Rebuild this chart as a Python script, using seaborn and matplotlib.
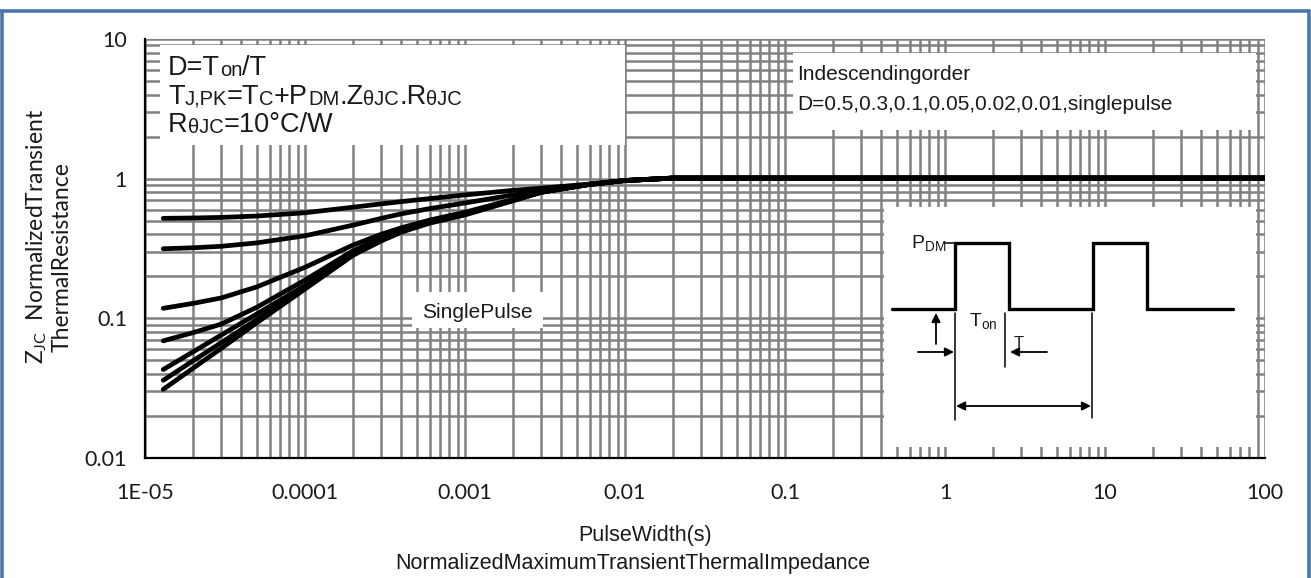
import numpy as np
import pandas as pd
import matplotlib
matplotlib.use("Agg")
import matplotlib.pyplot as plt
import seaborn as sns
from matplotlib.patches import Rectangle
from matplotlib.lines import Line2D
from matplotlib.ticker import FixedLocator, FixedFormatter, LogLocator, NullFormatter

# ---------------- data ----------------
pulse_width = [1.3e-5, 2e-5, 3e-5, 5e-5, 1e-4, 2e-4, 3e-4, 4e-4, 6e-4,
               1e-3, 2e-3, 3e-3, 6e-3, 1e-2, 2e-2, 100]
duty_labels = ["0.5", "0.3", "0.1", "0.05", "0.02", "0.01", "single pulse"]
z_d050 = [0.52, 0.523, 0.528, 0.54, 0.57, 0.625, 0.66, 0.685, 0.72, 0.765, 0.825, 0.855, 0.915, 0.97, 1.01, 1.01]
z_d030 = [0.315, 0.32, 0.328, 0.347, 0.39, 0.465, 0.52, 0.56, 0.61, 0.67, 0.765, 0.825, 0.912, 0.97, 1.01, 1.01]
z_d010 = [0.118, 0.128, 0.14, 0.168, 0.232, 0.335, 0.40, 0.445, 0.505, 0.575, 0.71, 0.805, 0.91, 0.97, 1.01, 1.01]
z_d005 = [0.069, 0.079, 0.091, 0.12, 0.188, 0.305, 0.378, 0.43, 0.495, 0.565, 0.705, 0.80, 0.91, 0.97, 1.01, 1.01]
z_d002 = [0.043, 0.0576, 0.076, 0.1075, 0.172, 0.293, 0.368, 0.422, 0.488, 0.56, 0.70, 0.80, 0.91, 0.97, 1.01, 1.01]
z_d001 = [0.036, 0.0497, 0.067, 0.098, 0.167, 0.288, 0.363, 0.418, 0.484, 0.555, 0.70, 0.80, 0.91, 0.97, 1.01, 1.01]
z_single = [0.031, 0.044, 0.061, 0.093, 0.162, 0.283, 0.358, 0.414, 0.48, 0.55, 0.695, 0.80, 0.91, 0.97, 1.01, 1.01]

x_ticks = [1e-5, 1e-4, 1e-3, 1e-2, 1e-1, 1, 10, 100]
x_tick_labels = ["1E-05", "0.0001", "0.001", "0.01", "0.1", "1", "10", "100"]
y_ticks = [0.01, 0.1, 1, 10]
y_tick_labels = ["0.01", "0.1", "1", "10"]

# pulse schematic (inset drawing units)
pulse_x = [892, 955, 955, 1009, 1009, 1093, 1093, 1147, 1147, 1233]
pulse_y = [309, 309, 243, 243, 309, 309, 243, 243, 309, 309]

# ---------------- figure ----------------
W, H = 1311, 578
sns.set_theme(style="white")
plt.rcParams["font.family"] = ["Liberation Sans", "DejaVu Sans"]
plt.rcParams["mathtext.fontset"] = "custom"
plt.rcParams["mathtext.rm"] = "Liberation Sans"
plt.rcParams["mathtext.it"] = "Liberation Sans"

fig = plt.figure(figsize=(W / 100, H / 100), dpi=100)
fig.patch.set_facecolor("white")


def fx(px):
    return px / W


def fy(py):
    return 1 - py / H


ax = fig.add_axes([fx(145), fy(458), (1265 - 145) / W, (458 - 39) / H])
ax.set_xscale("log")
ax.set_yscale("log")

series = [z_d050, z_d030, z_d010, z_d005, z_d002, z_d001, z_single]
df = pd.concat(
    [pd.DataFrame({"pulse": pulse_width, "z": s, "D": lab}) for s, lab in zip(series, duty_labels)],
    ignore_index=True,
)
sns.lineplot(data=df, x="pulse", y="z", hue="D", hue_order=duty_labels,
             palette={d: "black" for d in duty_labels}, estimator=None,
             linewidth=3.4, legend=False, ax=ax, zorder=3,
             solid_capstyle="round", solid_joinstyle="round")

ax.set_xlim(1e-5, 100)
ax.set_ylim(0.01, 10)
ax.xaxis.set_major_locator(FixedLocator(x_ticks))
ax.xaxis.set_major_formatter(FixedFormatter(x_tick_labels))
ax.yaxis.set_major_locator(FixedLocator(y_ticks))
ax.yaxis.set_major_formatter(FixedFormatter(y_tick_labels))
ax.xaxis.set_minor_locator(LogLocator(base=10, subs=np.arange(2, 10), numticks=20))
ax.yaxis.set_minor_locator(LogLocator(base=10, subs=np.arange(2, 10), numticks=20))
ax.xaxis.set_minor_formatter(NullFormatter())
ax.yaxis.set_minor_formatter(NullFormatter())
ax.set_axisbelow(True)
ax.grid(True, which="both", color="#808080", linewidth=1.8)
ax.tick_params(which="both", length=0)
ax.tick_params(axis="x", pad=18, labelsize=15.5, labelcolor="#1a1a1a")
ax.tick_params(axis="y", pad=13, labelsize=15.5, labelcolor="#1a1a1a")
for lab in ax.get_xticklabels() + ax.get_yticklabels():
    lab.set_family(["Lato", "DejaVu Sans"])
for side in ["top", "right"]:
    ax.spines[side].set_visible(False)
for side in ["left", "bottom"]:
    ax.spines[side].set_color("black")
    ax.spines[side].set_linewidth(1.6)
ax.set_xlabel("")
ax.set_ylabel("")

# white boxes covering grid
for (x0, y0, x1, y1) in [(160, 45, 625, 145), (793, 53, 1256, 130), (412, 292, 543, 328)]:
    ax.add_patch(Rectangle((fx(x0), fy(y1)), (x1 - x0) / W, (y1 - y0) / H,
                           transform=fig.transFigure, facecolor="white",
                           edgecolor="none", zorder=1.5, clip_on=False))

DESC = 0.21


def rich(x_px, y_px, parts, color="#1a1a1a"):
    prev, prev_size = None, None
    for txt, size in parts:
        if prev is None:
            prev = fig.text(fx(x_px), fy(y_px), txt, fontsize=size, color=color,
                            ha="left", va="baseline", zorder=6)
        else:
            prev = ax.annotate(
                txt, xy=(1, 0), xycoords=prev, xytext=(0, (prev_size - size) * DESC),
                textcoords="offset points", fontsize=size, color=color,
                ha="left", va="bottom", zorder=6, annotation_clip=False)
        prev_size = size


BIG, SMALL = 19.5, 14.5
rich(168, 75, [("D=T", BIG), ("on", SMALL), ("/T", BIG)])
rich(168, 104, [("T", BIG), ("J,PK", SMALL), ("=T", BIG), ("C", SMALL), ("+P", BIG),
                ("DM", SMALL), (".Z", BIG), ("θJC", SMALL), (".R", BIG), ("θJC", SMALL)])
rich(168, 132, [("R", BIG), ("θJC", SMALL), ("=10°C/W", BIG)])

fig.text(fx(797), fy(80), "Indescendingorder", fontsize=15, color="#1a1a1a",
         ha="left", va="baseline", zorder=6)
fig.text(fx(797), fy(110), "D=0.5,0.3,0.1,0.05,0.02,0.01,singlepulse", fontsize=15,
         color="#1a1a1a", ha="left", va="baseline", zorder=6)
fig.text(fx(477), fy(312), "SinglePulse", fontsize=15, color="#1a1a1a",
         ha="center", va="center", zorder=6)

# axis titles
fig.text(fx(645), fy(535), "PulseWidth(s)", fontsize=15.5, color="#1a1a1a",
         ha="center", va="center")
fig.text(fx(633), fy(563), "NormalizedMaximumTransientThermalImpedance", fontsize=15.5,
         color="#1a1a1a", ha="center", va="center")
fig.text(fx(37), fy(236), r"$\mathregular{Z_{JC}}$  NormalizedTransient", fontsize=16.5,
         family=["Lato", "DejaVu Sans"], color="#1a1a1a", rotation=90,
         ha="center", va="center")
fig.text(fx(62), fy(257), "ThermalResistance", fontsize=16.5,
         family=["Lato", "DejaVu Sans"], color="#1a1a1a", rotation=90,
         ha="center", va="center")

# ---------------- pulse inset ----------------
ins = fig.add_axes([fx(884), fy(447), (1256 - 884) / W, (447 - 207) / H], zorder=4)
ins.set_facecolor("white")
ins.set_xlim(884, 1256)
ins.set_ylim(447, 207)
ins.set_xticks([])
ins.set_yticks([])
for sp in ins.spines.values():
    sp.set_visible(False)
ins.plot(pulse_x, pulse_y, color="black", linewidth=2.4, solid_joinstyle="miter")
thin = dict(color="black", linewidth=1.1)
ins.plot([944, 955], [243, 243], **thin)
ins.plot([955, 955], [313, 420], **thin)
ins.plot([1005, 1005], [313, 367], **thin)
ins.plot([1092, 1092], [313, 418], **thin)
arr = dict(arrowstyle="-|>", color="black", linewidth=1.3, mutation_scale=13,
           shrinkA=0, shrinkB=0)
ins.annotate("", xy=(936, 313), xytext=(936, 344), arrowprops=arr)
ins.annotate("", xy=(954, 352), xytext=(918, 352), arrowprops=arr)
ins.annotate("", xy=(1010, 352), xytext=(1047, 352), arrowprops=arr)
ins.annotate("", xy=(1091, 406), xytext=(956, 406),
             arrowprops=dict(arrowstyle="<|-|>", color="black", linewidth=1.3,
                             mutation_scale=13, shrinkA=0, shrinkB=0))
ins.text(911, 248, r"$\mathregular{P_{DM}}$", fontsize=14, color="#1a1a1a",
         ha="left", va="baseline")
ins.text(969, 326, r"$\mathregular{T_{on}}$", fontsize=14, color="#1a1a1a",
         ha="left", va="baseline")
ins.text(1019, 348, "T", fontsize=12, color="#1a1a1a", ha="center", va="baseline")

# ---------------- blue frame ----------------
blue = "#4a76a8"
fig.add_artist(Line2D([fx(1.5), fx(1.5)], [fy(10.5), fy(580)], color=blue, linewidth=2.6,
                      transform=fig.transFigure))
fig.add_artist(Line2D([fx(0), fx(1309)], [fy(10.5), fy(10.5)], color=blue, linewidth=2.6,
                      transform=fig.transFigure))
fig.add_artist(Line2D([fx(1309), fx(1309)], [fy(10.5), fy(580)], color=blue, linewidth=2.6,
                      transform=fig.transFigure))

fig.savefig("out.png", dpi=100, facecolor="white")
